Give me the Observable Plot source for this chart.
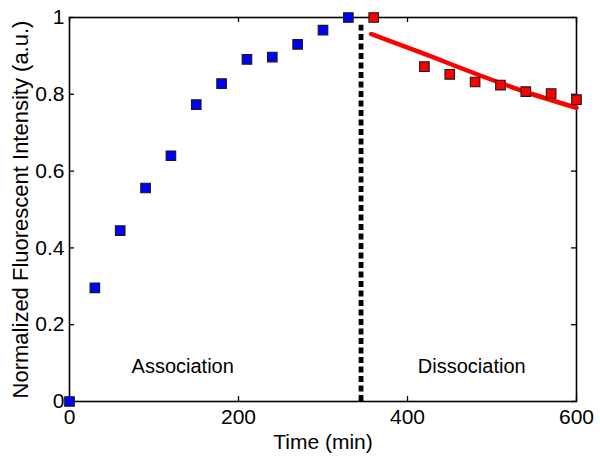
<!DOCTYPE html>
<html>
<head>
<meta charset="utf-8">
<script src="https://cdn.jsdelivr.net/npm/d3@7"></script>
<script src="https://cdn.jsdelivr.net/npm/@observablehq/plot@0.6"></script>
<style>
  html, body { margin: 0; padding: 0; background: #fff; }
  #chart { width: 600px; height: 460px; }
</style>
</head>
<body>
<div id="chart"></div>
<script>
// ---- data ----
const assocTime = [0, 30, 60, 90, 120, 150, 180, 210, 240, 270, 300, 330];
const assocValue = [0, 0.296, 0.445, 0.556, 0.640, 0.773, 0.828, 0.891, 0.897, 0.930, 0.967, 1.0];
const dissocTime = [360, 420, 450, 480, 510, 540, 570, 600];
const dissocValue = [1.0, 0.872, 0.852, 0.832, 0.824, 0.807, 0.802, 0.786];
const fitTime = [357, 420, 486, 540, 600];
const fitValue = [0.957, 0.905, 0.849, 0.806, 0.765];
const boundaryTime = [345];
const boundaryRange = [0, 0.98];
const xTicks = [0, 200, 400, 600];
const yTicks = [0, 0.2, 0.4, 0.6, 0.8, 1];
const phaseLabels = ["Association", "Dissociation"];
const phaseX = [134, 476];
const phaseY = [0.09, 0.09];

const assoc = assocTime.map((t, i) => ({t, v: assocValue[i]}));
const dissoc = dissocTime.map((t, i) => ({t, v: dissocValue[i]}));
const fit = fitTime.map((t, i) => ({t, v: fitValue[i]}));
const phases = phaseLabels.map((s, i) => ({s, t: phaseX[i], v: phaseY[i]}));

const font = "'Liberation Sans', Arial, sans-serif";
const W = 600, H = 460, mL = 69, mR = 24, mT = 17, mB = 59;
const innerW = W - mL - mR, innerH = H - mT - mB, tk = 5;

const chart = Plot.plot({
  width: W,
  height: H,
  marginLeft: mL,
  marginRight: mR,
  marginTop: mT,
  marginBottom: mB,
  style: {fontFamily: font, fontSize: "21px", color: "#000", background: "#fff"},
  x: {domain: [0, 600]},
  y: {domain: [0, 1]},
  marks: [
    Plot.axisX({anchor: "bottom", ticks: xTicks, tickSize: 0, tickPadding: 8, tickFormat: d => String(d), label: null, fontSize: 21}),
    Plot.axisY({anchor: "left", ticks: yTicks, tickSize: 0, tickPadding: 5, tickFormat: d => String(d), label: null, fontSize: 21}),
    Plot.tickX(xTicks, {x: d => d, insetTop: innerH - tk, stroke: "#000", strokeWidth: 1.3}),
    Plot.tickX(xTicks, {x: d => d, insetBottom: innerH - tk, stroke: "#000", strokeWidth: 1.3}),
    Plot.tickY(yTicks, {y: d => d, insetRight: innerW - tk, stroke: "#000", strokeWidth: 1.3}),
    Plot.tickY(yTicks, {y: d => d, insetLeft: innerW - tk, stroke: "#000", strokeWidth: 1.3}),
    Plot.frame({stroke: "#000", strokeWidth: 1.6}),
    Plot.ruleX(boundaryTime, {y1: boundaryRange[0], y2: boundaryRange[1], stroke: "#000", strokeWidth: 4.8, strokeDasharray: "6,3.5"}),
    Plot.line(fit, {x: "t", y: "v", stroke: "#ff0000", strokeWidth: 4.5, curve: "monotone-x"}),
    Plot.dot(assoc, {x: "t", y: "v", symbol: "square", r: 5.4, fill: "#0000ff", stroke: "#1a1a1a", strokeWidth: 1.1}),
    Plot.dot(dissoc, {x: "t", y: "v", symbol: "square", r: 5.4, fill: "#ff0000", stroke: "#1a1a1a", strokeWidth: 1.1}),
    Plot.text(phases, {x: "t", y: "v", text: "s", fontSize: 20, fill: "#000"}),
    Plot.text(["Time (min)"], {frameAnchor: "bottom", dy: 47, fontSize: 21, fill: "#000"}),
    Plot.text(["Normalized Fluorescent Intensity (a.u.)"], {frameAnchor: "left", textAnchor: "middle", dx: -49, rotate: -90, fontSize: 22, fill: "#000"})
  ]
});
document.getElementById("chart").appendChild(chart);
</script>
</body>
</html>
